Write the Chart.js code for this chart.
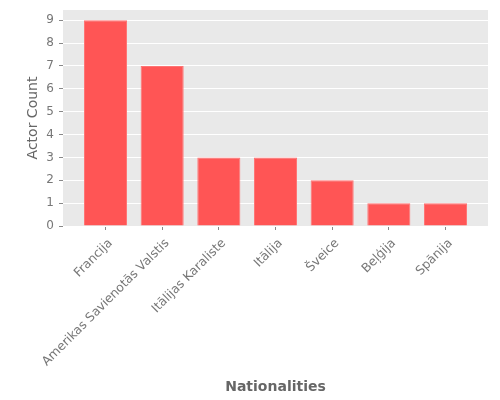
<!DOCTYPE html>
<html>
<head>
<meta charset="utf-8">
<script src="https://cdn.jsdelivr.net/npm/chart.js@4/dist/chart.umd.min.js"></script>
<style>
  html, body { margin: 0; padding: 0; background: #fff; }
  #wrap { width: 500px; height: 400px; }
</style>
</head>
<body>
<div id="wrap"><canvas id="nationChart"></canvas></div>
<script>
// Chart data
const nationalities = ["Francija", "Amerikas Savienotās Valstis", "Itālijas Karaliste", "Itālija", "Šveice", "Beļģija", "Spānija"];
const actorCounts = [9, 7, 3, 3, 2, 1, 1];
const yTicks = [0, 1, 2, 3, 4, 5, 6, 7, 8, 9];

const ctx = document.getElementById("nationChart").getContext("2d");

// gray panel behind the bars, like the ggplot style
const panelBg = {
  id: "panelBg",
  beforeDraw(chart) {
    const a = chart.chartArea;
    const c = chart.ctx;
    c.save();
    c.fillStyle = "#e9e9e9";
    c.fillRect(a.left, a.top, a.right - a.left, a.bottom - a.top);
    c.restore();
  },
};

new Chart(ctx, {
  type: "bar",
  data: {
    datasets: [
      {
        data: actorCounts.map((v, i) => ({ x: i, y: v })),
        backgroundColor: "#ff5555",
        borderColor: "#ff7373",
        borderWidth: 1,
        categoryPercentage: 1,
        barPercentage: 0.76,
      },
    ],
  },
  options: {
    responsive: true,
    maintainAspectRatio: false,
    animation: false,
    layout: { padding: { left: 20, top: 10, right: 12, bottom: 0 } },
    plugins: { legend: { display: false }, tooltip: { enabled: false } },
    scales: {
      x: {
        type: "linear",
        offset: false,
        min: -0.75,
        max: nationalities.length - 0.25,
        afterBuildTicks: (scale) => {
          scale.ticks = nationalities.map((_, i) => ({ value: i }));
        },
        afterFit: (scale) => { scale.height = 174; },
        grid: { offset: false, drawOnChartArea: false, tickColor: "#888", tickLength: 4 },
        border: { display: false },
        ticks: {
          autoSkip: false,
          minRotation: 45,
          maxRotation: 45,
          padding: 6,
          labelOffset: 5,
          color: "#777",
          font: { family: "DejaVu Sans", size: 12.4 },
          callback: (v) => nationalities[v],
        },
        title: {
          display: true,
          text: "Nationalities",
          color: "#666",
          font: { family: "DejaVu Sans", size: 14, weight: "bold" },
          padding: { top: 0, bottom: 4 },
        },
      },
      y: {
        min: 0,
        max: 9.45,
        afterBuildTicks: (scale) => {
          scale.ticks = yTicks.map((v) => ({ value: v }));
        },
        afterFit: (scale) => {
          scale.width = 43;
          scale.paddingTop = 0;
          scale.paddingBottom = 0;
        },
        grid: { color: "#ffffff", lineWidth: 1, tickColor: "#888", tickLength: 4 },
        border: { display: false },
        ticks: {
          padding: 5,
          color: "#777",
          font: { family: "DejaVu Sans", size: 12 },
        },
        title: {
          display: true,
          text: "Actor Count",
          color: "#666",
          font: { family: "DejaVu Sans", size: 14 },
          padding: { top: 5, bottom: 0 },
        },
      },
    },
  },
  plugins: [panelBg],
});
</script>
</body>
</html>
